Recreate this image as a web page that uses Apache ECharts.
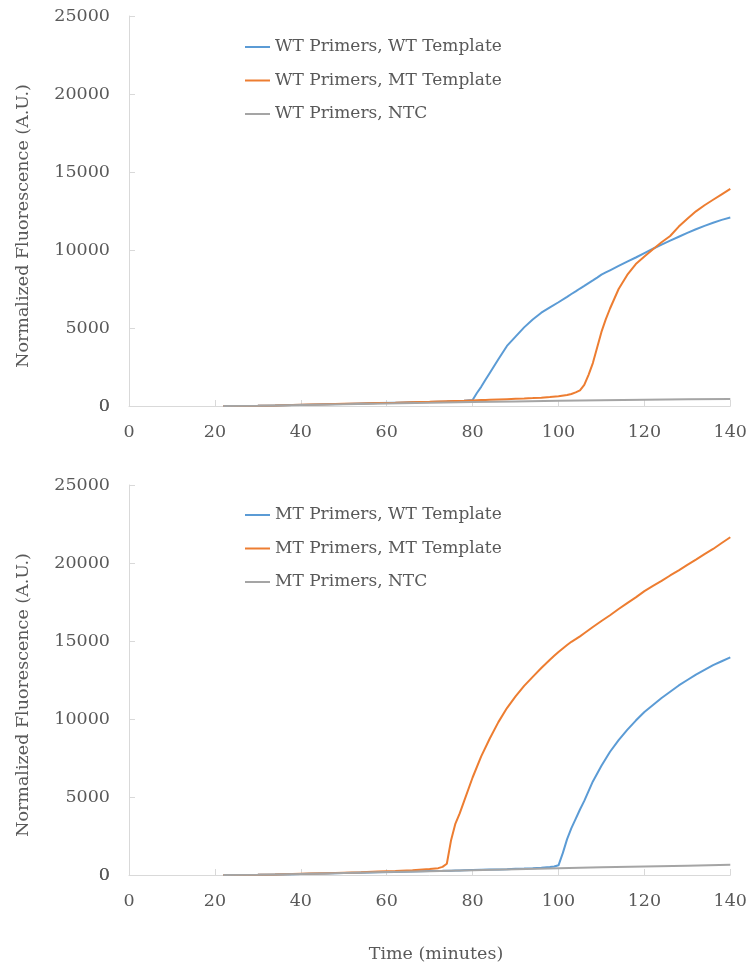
<!DOCTYPE html>
<html>
<head>
<meta charset="utf-8">
<title>Normalized Fluorescence vs Time</title>
<script src="https://cdn.jsdelivr.net/npm/echarts@6/dist/echarts.min.js"></script>
<style>
  html, body { margin: 0; padding: 0; background: #ffffff; }
  #chart { width: 750px; height: 968px; }
</style>
</head>
<body>
<div id="chart"></div>
<script>
// Time points (minutes) for the amplification curves of each panel
const wtPanelTime = [22, 26, 30, 34, 38, 42, 46, 50, 54, 58, 62, 66, 70, 74, 78,
  80, 81, 82, 83, 84,
  86, 88, 90, 92, 94, 96, 98, 100,
  102, 103, 104, 105, 106, 107, 108, 109, 110, 111, 112,
  114, 116, 118, 120, 122, 124, 126, 128, 130, 132, 134, 136, 138, 140];

const mtPanelTime = [22, 26, 30, 34, 38, 42, 46, 50, 54, 58, 62, 66, 70,
  72, 73, 74, 75, 76, 77, 78,
  80, 82, 84, 86, 88, 90, 92, 94, 96, 98,
  99, 100, 101, 102, 103, 104, 105, 106,
  108, 110, 112, 114, 116, 118, 120, 122, 124, 126, 128, 130, 132, 134, 136, 138, 140];

// No-template controls are sampled more coarsely
const ntcTime = [22, 30, 40, 50, 60, 70, 80, 90, 100, 110, 120, 130, 140];

// WT primer set
const wtPrimersWtTemplate = [0, 5, 15, 35, 60, 85, 110, 135, 160, 185, 210, 235, 260, 290, 330,
  385, 830, 1230, 1680, 2120,
  3000, 3850, 4450, 5040, 5550, 5980, 6320, 6650,
  7000, 7180, 7350, 7530, 7700, 7880, 8050, 8230, 8420, 8560, 8700,
  8980, 9260, 9520, 9800, 10080, 10350, 10600, 10850, 11100, 11330, 11550, 11750, 11930, 12080];

const wtPrimersMtTemplate = [0, 5, 15, 35, 60, 90, 115, 140, 165, 190, 215, 245, 270, 300, 330,
  360, 370, 380, 390, 400,
  420, 440, 460, 480, 505, 535, 575, 625,
  700, 770, 870, 1000, 1350, 2000, 2750, 3750, 4750, 5550, 6250,
  7500, 8400, 9100, 9580, 10050, 10500, 10900, 11500, 12000, 12480, 12870, 13220, 13570, 13920];

const wtPrimersNtc = [0, 12, 60, 110, 160, 205, 250, 290, 330, 365, 395, 425, 455];

// MT primer set
const mtPrimersWtTemplate = [0, 3, 10, 25, 50, 75, 100, 125, 150, 175, 200, 225, 250,
  262, 268, 275, 280, 287, 293, 300,
  315, 330, 345, 360, 375, 395, 415, 440, 470, 510,
  540, 620, 1400, 2300, 3000, 3600, 4200, 4750,
  6000, 7000, 7900, 8650, 9300, 9900, 10450, 10900, 11350, 11750, 12150, 12500, 12850, 13150, 13450, 13700, 13950];

const mtPrimersMtTemplate = [0, 5, 15, 35, 60, 90, 120, 150, 180, 220, 260, 310, 380,
  440, 520, 720, 2250, 3300, 3950, 4720,
  6250, 7600, 8750, 9800, 10700, 11450, 12120, 12700, 13270, 13800,
  14050, 14300, 14520, 14740, 14950, 15120, 15300, 15500,
  15900, 16280, 16650, 17050, 17430, 17800, 18200, 18530, 18850, 19200, 19530, 19880, 20220, 20570, 20900, 21280, 21650];

const mtPrimersNtc = [0, 15, 70, 130, 185, 245, 305, 370, 430, 490, 545, 600, 650];

// Axis ticks
const timeTicks = { min: 0, max: 140, interval: 20 };
const fluorTicks = { min: 0, max: 25000, interval: 5000 };

const wtNames = ['WT Primers, WT Template', 'WT Primers, MT Template', 'WT Primers, NTC'];
const mtNames = ['MT Primers, WT Template', 'MT Primers, MT Template', 'MT Primers, NTC'];

const BLUE = '#5B9BD5', ORANGE = '#ED7D31', GRAY = '#A5A5A5';
const FONT = 'DejaVu Serif';
const TEXT = '#595959';
const AXIS = '#D9D9D9';
const FS = 17.5;
const LEGEND_FS = 17;
const Y_LABEL_MARGIN = 19;

function pairs(t, v) { return t.map((x, i) => [x, v[i]]); }

function xAxisFor(gridIndex) {
  return {
    gridIndex, type: 'value', ...timeTicks,
    axisLine: { show: true, onZero: false, lineStyle: { color: AXIS, width: 1 } },
    axisTick: { show: true, inside: true, length: 6, lineStyle: { color: AXIS } },
    splitLine: { show: false },
    axisLabel: {
      margin: 17, color: TEXT, fontFamily: FONT, fontSize: FS,
      showMinLabel: true, showMaxLabel: true, hideOverlap: false,
      formatter: (v) => String(v)
    }
  };
}
function yAxisFor(gridIndex) {
  return {
    gridIndex, type: 'value', ...fluorTicks,
    axisLine: { show: true, onZero: false, lineStyle: { color: AXIS, width: 1 } },
    axisTick: { show: true, inside: true, length: 6, lineStyle: { color: AXIS } },
    splitLine: { show: false },
    axisLabel: {
      margin: Y_LABEL_MARGIN, color: TEXT, fontFamily: FONT, fontSize: FS,
      showMinLabel: true, showMaxLabel: true, hideOverlap: false,
      formatter: (v) => String(v)
    }
  };
}
function curve(name, idx, time, values, color) {
  return {
    name, type: 'line', xAxisIndex: idx, yAxisIndex: idx,
    data: pairs(time, values),
    showSymbol: false, symbol: 'none',
    lineStyle: { color, width: 2 }, itemStyle: { color },
    emphasis: { disabled: true }
  };
}
function legendFor(names, top) {
  return {
    data: names, orient: 'vertical', left: 240, top,
    icon: 'rect', itemWidth: 25, itemHeight: 2, itemGap: 13.5,
    selectedMode: false,
    textStyle: { color: TEXT, fontFamily: FONT, fontSize: LEGEND_FS, lineHeight: 20 }
  };
}
function yTitle(cy) {
  return {
    type: 'text', x: 23, y: cy, rotation: Math.PI / 2,
    style: {
      text: 'Normalized Fluorescence (A.U.)', fill: TEXT,
      font: FS + 'px "' + FONT + '"', align: 'center', verticalAlign: 'middle'
    }
  };
}

const chart = echarts.init(document.getElementById('chart'), null, { renderer: 'canvas' });
chart.setOption({
  animation: false,
  backgroundColor: '#ffffff',
  grid: [
    { left: 129, top: 16, width: 602, height: 390 },
    { left: 129, top: 485, width: 602, height: 390 }
  ],
  xAxis: [xAxisFor(0), xAxisFor(1)],
  yAxis: [yAxisFor(0), yAxisFor(1)],
  legend: [legendFor(wtNames, 32), legendFor(mtNames, 500)],
  series: [
    curve(wtNames[0], 0, wtPanelTime, wtPrimersWtTemplate, BLUE),
    curve(wtNames[1], 0, wtPanelTime, wtPrimersMtTemplate, ORANGE),
    curve(wtNames[2], 0, ntcTime, wtPrimersNtc, GRAY),
    curve(mtNames[0], 1, mtPanelTime, mtPrimersWtTemplate, BLUE),
    curve(mtNames[1], 1, mtPanelTime, mtPrimersMtTemplate, ORANGE),
    curve(mtNames[2], 1, ntcTime, mtPrimersNtc, GRAY)
  ],
  graphic: [
    yTitle(226),
    yTitle(695),
    {
      type: 'text', x: 436, y: 954,
      style: {
        text: 'Time (minutes)', fill: TEXT,
        font: FS + 'px "' + FONT + '"', align: 'center', verticalAlign: 'middle'
      }
    }
  ]
});

// The value axis drops its "0" label where it meets the time axis; add it back
// at the origin of each panel, positioned through the axis scales
const originLabels = [0, 1].map((i) => {
  const px = chart.convertToPixel({ xAxisIndex: i, yAxisIndex: i }, [0, 0]);
  return {
    id: 'origin' + i,
    type: 'text', x: px[0] - Y_LABEL_MARGIN, y: px[1],
    style: {
      text: String(fluorTicks.min), fill: TEXT,
      font: FS + 'px "' + FONT + '"', align: 'right', verticalAlign: 'middle'
    }
  };
});
chart.setOption({ graphic: originLabels });
</script>
</body>
</html>
